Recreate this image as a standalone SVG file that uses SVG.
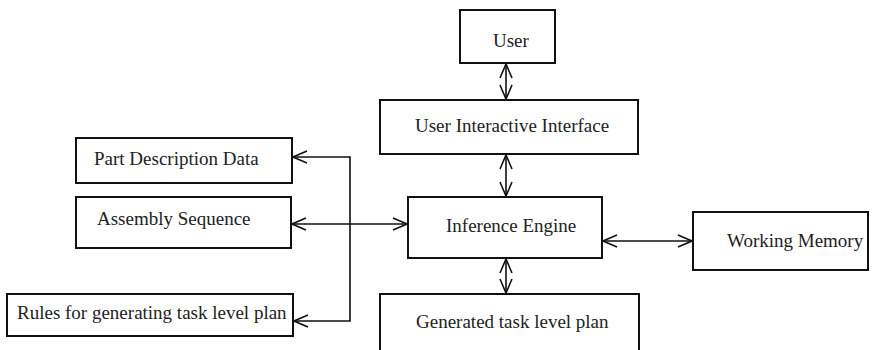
<svg xmlns="http://www.w3.org/2000/svg" width="872" height="350" viewBox="0 0 872 350">
<style>
.box{fill:#fff;stroke:#111;stroke-width:2}
.lbl{font-size:19px;fill:#222}
.c{fill:none;stroke:#111;stroke-width:1.6}
</style>
<defs>
<marker id="ah" viewBox="0 0 16 14" refX="15" refY="7" markerWidth="16" markerHeight="14" markerUnits="userSpaceOnUse" orient="auto-start-reverse">
<path d="M1,1 L15,7 L1,13" fill="none" stroke="#111" stroke-width="1.6"/>
</marker>
</defs>
<rect width="872" height="350" fill="#fff"/>
<g id="connectors">
<line class="c" x1="506" y1="64" x2="506" y2="99" marker-start="url(#ah)" marker-end="url(#ah)"/>
<line class="c" x1="506" y1="155" x2="506" y2="196" marker-start="url(#ah)" marker-end="url(#ah)"/>
<line class="c" x1="506" y1="259" x2="506" y2="293" marker-start="url(#ah)" marker-end="url(#ah)"/>
<line class="c" x1="603" y1="241" x2="692" y2="241" marker-start="url(#ah)" marker-end="url(#ah)"/>
<line class="c" x1="292" y1="224" x2="407" y2="224" marker-start="url(#ah)" marker-end="url(#ah)"/>
<polyline class="c" points="293,157 350,157 350,321 294,321" marker-start="url(#ah)" marker-end="url(#ah)"/>
</g>
<g font-family="'Liberation Serif', 'Times New Roman', serif">
<g id="user"><rect class="box" x="460" y="10" width="95" height="53"/><text class="lbl" x="493" y="47">User</text></g>
<g id="uii"><rect class="box" x="380" y="100" width="258" height="54"/><text class="lbl" x="415" y="132">User Interactive Interface</text></g>
<g id="ie"><rect class="box" x="408" y="197" width="194" height="61"/><text class="lbl" x="446" y="232">Inference Engine</text></g>
<g id="wm"><rect class="box" x="693" y="212" width="175" height="58"/><text class="lbl" x="727" y="247">Working Memory</text></g>
<g id="gtlp"><rect class="box" x="380" y="294" width="259" height="70"/><text class="lbl" x="416" y="328">Generated task level plan</text></g>
<g id="pdd"><rect class="box" x="76" y="138" width="216" height="45"/><text class="lbl" x="94" y="165">Part Description Data</text></g>
<g id="as"><rect class="box" x="76" y="197" width="215" height="51"/><text class="lbl" x="97" y="225">Assembly Sequence</text></g>
<g id="rules"><rect class="box" x="7" y="294" width="286" height="42"/><text class="lbl" x="17" y="319">Rules for generating task level plan</text></g>
</g>
</svg>
